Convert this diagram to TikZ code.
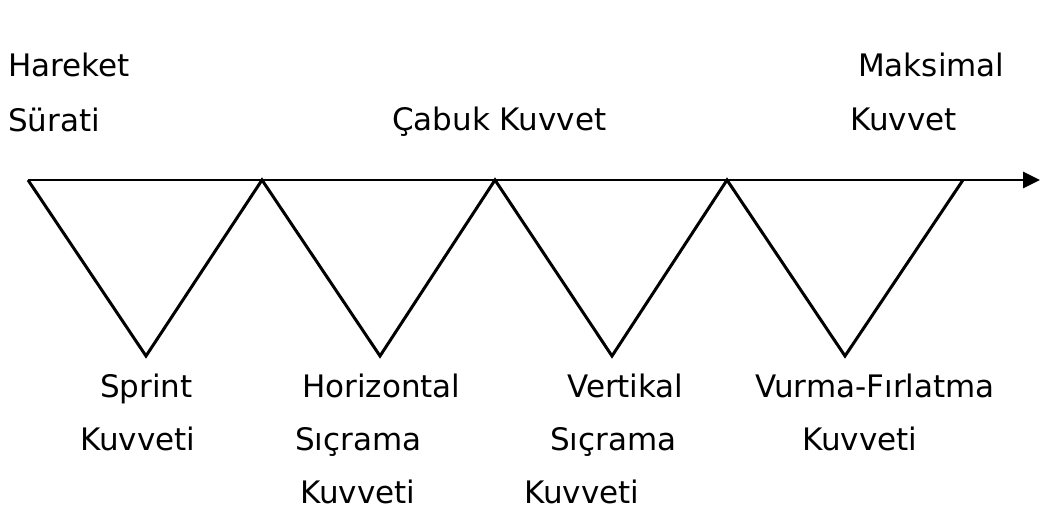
\documentclass[tikz,border=0pt]{standalone}
\usepackage{fontspec}
\setmainfont{DejaVu Sans}
\usetikzlibrary{arrows.meta}

\begin{document}
\begin{tikzpicture}[
  x=1pt, y=-1pt,
  font=\fontsize{31}{37}\selectfont,
  lbl/.style={anchor=base west, inner sep=0pt},
  zig/.style={line width=3pt, line join=miter},
  axis/.style={line width=2.8pt, -{Triangle[length=17pt, width=16pt]}}]

\useasboundingbox (0,0) rectangle (1040,510);

% ---------- zigzag corners ----------
\foreach \x [count=\i from 0] in {28,262,495,727,963}
  \coordinate (top\i) at (\x,180);
\foreach \x [count=\i] in {146,380,612,845}
  \coordinate (bot\i) at (\x,356);
\coordinate (axisend) at (1040,180);

\draw[axis] (top0) -- (axisend);
\draw[zig] (top0) -- (bot1) -- (top1) -- (bot2) -- (top2)
  -- (bot3) -- (top3) -- (bot4) -- (top4);

% ---------- labels above the axis ----------
\node[lbl] (hareket)  at (8,77)    {Hareket};
\node[lbl] (surati)   at (8,132)   {Sürati};
\node[lbl] (cabuk)    at (392,131) {Çabuk Kuvvet};
\node[lbl] (maksimal) at (858,77)  {Maksimal};
\node[lbl] (maxkuv)   at (850,131) {Kuvvet};

% ---------- labels below the zigzag ----------
\node[lbl] (sprint)    at (100,397) {Sprint};
\node[lbl] (sprintkuv) at (80,450)  {Kuvveti};
\node[lbl] (horiz)     at (302,397) {Horizontal};
\node[lbl] (horizsic)  at (295,450) {Sıçrama};
\node[lbl] (horizkuv)  at (300,503) {Kuvveti};
\node[lbl] (vert)      at (567,397) {Vertikal};
\node[lbl] (vertsic)   at (550,450) {Sıçrama};
\node[lbl] (vertkuv)   at (524,503) {Kuvveti};
\node[lbl] (vurma)     at (755,397) {Vurma-Fırlatma};
\node[lbl] (vurmakuv)  at (802,450) {Kuvveti};
\end{tikzpicture}
\end{document}
